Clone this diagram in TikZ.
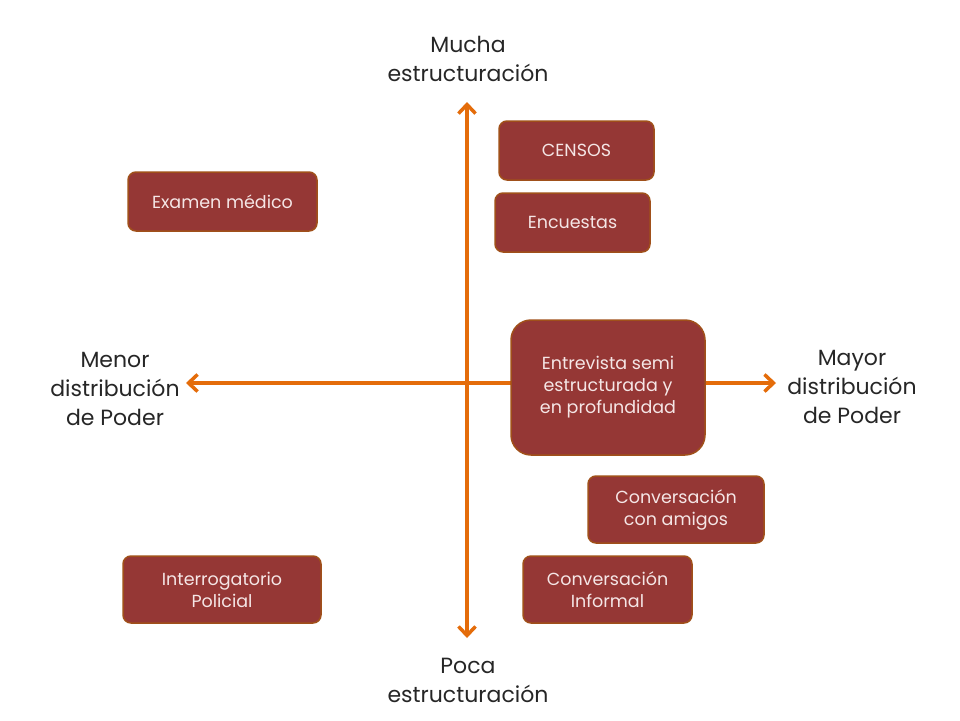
\documentclass[tikz,border=0pt]{standalone}
\usepackage{fontspec}
\setmainfont{Poppins}
\usetikzlibrary{arrows.meta}

\definecolor{boxred}{HTML}{953735}
\definecolor{boxline}{HTML}{A0501A}
\definecolor{axisor}{HTML}{E46C0A}
\definecolor{boxtext}{HTML}{F5E6E6}

\tikzset{
  metodo/.style={draw=boxline, line width=1.5pt, fill=boxred, rounded corners=8pt,
    text=boxtext, align=center, font=\fontsize{17.5}{22}\selectfont, inner sep=0pt},
  eje/.style={draw=axisor, line width=3.5pt, {Straight Barb[length=9pt,width=17pt,line width=3.5pt]}-{Straight Barb[length=9pt,width=17pt,line width=3.5pt]}},
  polo/.style={align=center, font=\fontsize{22}{29}\selectfont, text=black!85}
}

\begin{document}
\begin{tikzpicture}[x=1pt,y=-1pt]
\useasboundingbox (0,0) rectangle (960,720);

\coordinate (arriba) at (467,102);
\coordinate (abajo) at (467,638);
\coordinate (izq) at (186,383);
\coordinate (der) at (776,383);

\draw[eje] (abajo) -- (arriba);
\draw[eje] (izq) -- (der);

\node[polo] (mucha) at (468,59) {Mucha\\estructuración};
\node[polo] (poca) at (468,680) {Poca\\estructuración};
\node[polo] (menor) at (115,389) {Menor\\distribución\\de Poder};
\node[polo] (mayor) at (852,387) {Mayor\\distribución\\de Poder};

\node[metodo, minimum width=155pt, minimum height=59pt] (censos) at (576.5,150.5) {CENSOS};
\node[metodo, minimum width=155pt, minimum height=59pt] (encuestas) at (572.5,222.5) {Encuestas};
\node[metodo, minimum width=189pt, minimum height=59pt] (examen) at (222.5,201.5) {Examen médico};
\node[metodo, minimum width=194pt, minimum height=135pt, rounded corners=20pt] (entrevista) at (608,387.5) {Entrevista semi\\estructurada y\\en profundidad};
\node[metodo, minimum width=176pt, minimum height=67pt] (amigos) at (676,509.5) {Conversación\\con amigos};
\node[metodo, minimum width=198pt, minimum height=67pt] (policial) at (222,589.5) {Interrogatorio\\Policial};
\node[metodo, minimum width=169pt, minimum height=67pt] (informal) at (607.5,589.5) {Conversación\\Informal};

\end{tikzpicture}
\end{document}
